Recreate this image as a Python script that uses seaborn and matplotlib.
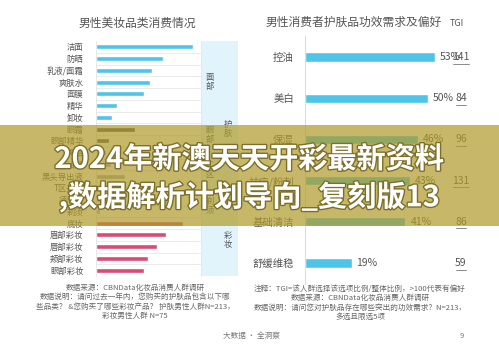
import numpy as np
import pandas as pd
import matplotlib
matplotlib.use('Agg')
import matplotlib.pyplot as plt
import matplotlib.patheffects as pe
from matplotlib.patches import Rectangle
from matplotlib.transforms import blended_transform_factory
import seaborn as sns

# ---------------- data ----------------
left_title = '男性美妆品类消费情况'
left_categories = ['洁面', '防晒', '乳液/面霜', '爽肤水', '面膜', '精华', '卸妆',
                   '眼霜', '眼部精华', '鼻贴', '吸油纸', '黑头导出液', 'T区护理',
                   '须后水', '剃须', '底妆', '眉部彩妆', '唇部彩妆', '颊部彩妆', '眼部彩妆']
left_values = [78, 54, 45, 43, 38, 17, 13, 31, 10, 8, 12, 23, 5, 9, 3, 70, 56, 49, 42, 38]
left_subgroups = ['面部'] * 7 + ['眼部'] * 2 + ['T区'] * 4 + ['剃须'] * 2 + ['彩妆'] * 5
left_groups = ['护肤'] * 15 + ['彩妆'] * 5

right_title = '男性消费者护肤品功效需求及偏好'
right_categories = ['控油', '美白', '保湿', '祛痘/粉刺', '基础清洁', '舒缓维稳']
right_pct = [53, 50, 46, 43, 41, 19]
right_tgi = [141, 84, 96, 131, 86, 59]

left_notes = ['数据来源：CBNData化妆品消费人群调研',
              '数据说明：请问过去一年内，您购买的护肤品包含以下哪',
              '些品类？ &您购买了哪些彩妆产品？ 护肤男性人群N=213，',
              '彩妆男性人群 N=75']
right_notes = ['注释：TGI=该人群选择该选项比例/整体比例，>100代表有偏好',
               '数据来源：CBNData化妆品消费人群调研',
               '数据说明：请问您对护肤品存在哪些突出的功效需求？N=213，',
               '多选且限选5项']
footer_text = '大数据 · 全洞察'
page_number = '9'
banner_lines = ['2024年新澳天天开彩最新资料', ',数据解析计划导向_复刻版13']

# ---------------- style ----------------
sns.set_theme(style='white')
plt.rcParams['font.family'] = ['Noto Sans CJK SC', 'DejaVu Sans']

W, H = 499, 353
fig = plt.figure(figsize=(W / 100, H / 100), dpi=100)
fig.patch.set_facecolor('white')


def fx(px):
    return px / W


def fy(py):
    return 1 - py / H


TXT = '#555555'
BLUE = '#4EC5E8'

# ---------------- left chart ----------------
top_l, bot_l = 41, 276
ax1 = fig.add_axes([fx(96), fy(bot_l), (201 - 96) / W, (bot_l - top_l) / H])
df1 = pd.DataFrame({'cat': left_categories, 'val': left_values, 'sub': left_subgroups})
palette = {'面部': BLUE, '眼部': '#555555', 'T区': '#A8A8A8', '剃须': '#A8A8A8', '彩妆': '#D94A75'}
sns.barplot(data=df1, x='val', y='cat', hue='sub', palette=palette, dodge=False,
            width=0.42, saturation=1, ax=ax1, legend=False)
n = len(left_categories)
ax1.set_xlim(0, 84)
ax1.set_ylim(n - 0.5, -0.5)
ax1.set_xlabel('')
ax1.set_ylabel('')
ax1.set_xticks([])
ax1.tick_params(axis='y', which='major', length=0, pad=9, labelsize=6, labelcolor=TXT)
ax1.set_yticks(np.arange(n) + 0.5, minor=True)
ax1.tick_params(axis='y', which='minor', length=0)
ax1.grid(False)
ax1.grid(which='minor', axis='y', color='#e8e8e8', lw=0.6)
ax1.set_axisbelow(True)
for s in ['top', 'bottom']:
    ax1.spines[s].set_visible(False)
for s in ['left', 'right']:
    ax1.spines[s].set_color('#e3e3e3')
    ax1.spines[s].set_linewidth(0.6)

# group band
axb = fig.add_axes([fx(202), fy(bot_l), 36 / W, (bot_l - top_l) / H], sharey=ax1)
axb.set_facecolor('#E2F4FB')
axb.set_xlim(0, 1)
axb.tick_params(left=False, labelleft=False, bottom=False, labelbottom=False)
for s in axb.spines.values():
    s.set_visible(False)
axb.grid(False)

idx = np.arange(n)
seen = []
for g in left_subgroups:
    if g not in seen:
        seen.append(g)
for g in seen:
    if g == '彩妆':
        continue
    rows = idx[np.array(left_subgroups) == g]
    axb.text(0.22, rows.mean(), '\n'.join(g) if g != 'T区' else 'T\n区', ha='center', va='center',
             fontsize=6, color=TXT, linespacing=1.0)
seen = []
for g in left_groups:
    if g not in seen:
        seen.append(g)
for g in seen:
    rows = idx[np.array(left_groups) == g]
    axb.text(0.72, rows.mean() - (0 if g == '护肤' else 0.6), '\n'.join(g), ha='center', va='center',
             fontsize=6, color=TXT, linespacing=1.0)

fig.text(fx(137), fy(23), left_title, ha='center', va='center', fontsize=8.5, color=TXT)

# ---------------- right chart ----------------
top_r, bot_r = 36.4, 283.6
px_per_unit = 2.45
ax2 = fig.add_axes([fx(305), fy(bot_r), 175 / W, (bot_r - top_r) / H])
df2 = pd.DataFrame({'cat': right_categories, 'pct': right_pct})
sns.barplot(data=df2, x='pct', y='cat', color=BLUE, saturation=1, width=0.22, ax=ax2)
m = len(right_categories)
ax2.set_xlim(0, 175 / px_per_unit)
ax2.set_ylim(m - 0.5, -0.5)
ax2.set_xlabel('')
ax2.set_ylabel('')
ax2.set_xticks([])
ax2.grid(False)
ax2.tick_params(axis='y', length=0, pad=8, labelsize=7.5, labelcolor=TXT)
for s in ['top', 'bottom', 'right']:
    ax2.spines[s].set_visible(False)
ax2.spines['left'].set_color('#dddddd')
ax2.spines['left'].set_linewidth(0.8)

trans = blended_transform_factory(ax2.transAxes, ax2.transData)
for i, (v, t) in enumerate(zip(right_pct, right_tgi)):
    ax2.text(v + 2, i, f'{v}%', ha='left', va='center', fontsize=7.5, color=TXT)
    ax2.text(0.891, i, str(t), transform=trans, ha='center', va='center', fontsize=7.5, color=TXT)
    half = len(str(t)) * 2.6 / 175
    ax2.plot([0.891 - half, 0.891 + half], [i + 0.16, i + 0.16], transform=trans,
             color='#777777', lw=0.6)

fig.text(fx(354), fy(22), right_title, ha='center', va='center', fontsize=8.5, color=TXT)
fig.text(fx(457), fy(24), 'TGI', ha='center', va='center', fontsize=6.5, color=TXT)

# ---------------- notes ----------------
for i, line in enumerate(left_notes):
    fig.text(fx(135), fy(288 + 9.3 * i), line, ha='center', va='center', fontsize=5.5, color='#666666')
for i, line in enumerate(right_notes):
    fig.text(fx(360), fy(289 + 9.3 * i), line, ha='center', va='center', fontsize=5.5, color='#666666')
fig.text(fx(251), fy(336), footer_text, ha='center', va='center', fontsize=5.5, color='#777777')
fig.text(fx(462), fy(336), page_number, ha='center', va='center', fontsize=5.5, color='#777777')

# ---------------- banner overlay ----------------
banner = Rectangle((0, fy(226)), 1, 101 / H, transform=fig.transFigure,
                   facecolor='#B09B29', alpha=0.7, edgecolor='none', zorder=10)
fig.add_artist(banner)
for i, line in enumerate(banner_lines):
    fig.text(fx(249), fy(159 + 38 * i), line, ha='center', va='center', fontsize=21,
             fontweight='bold', color='white', zorder=11,
             path_effects=[pe.withStroke(linewidth=2, foreground='#7d6f2a')])

fig.savefig('out.png', dpi=100, facecolor='white')
